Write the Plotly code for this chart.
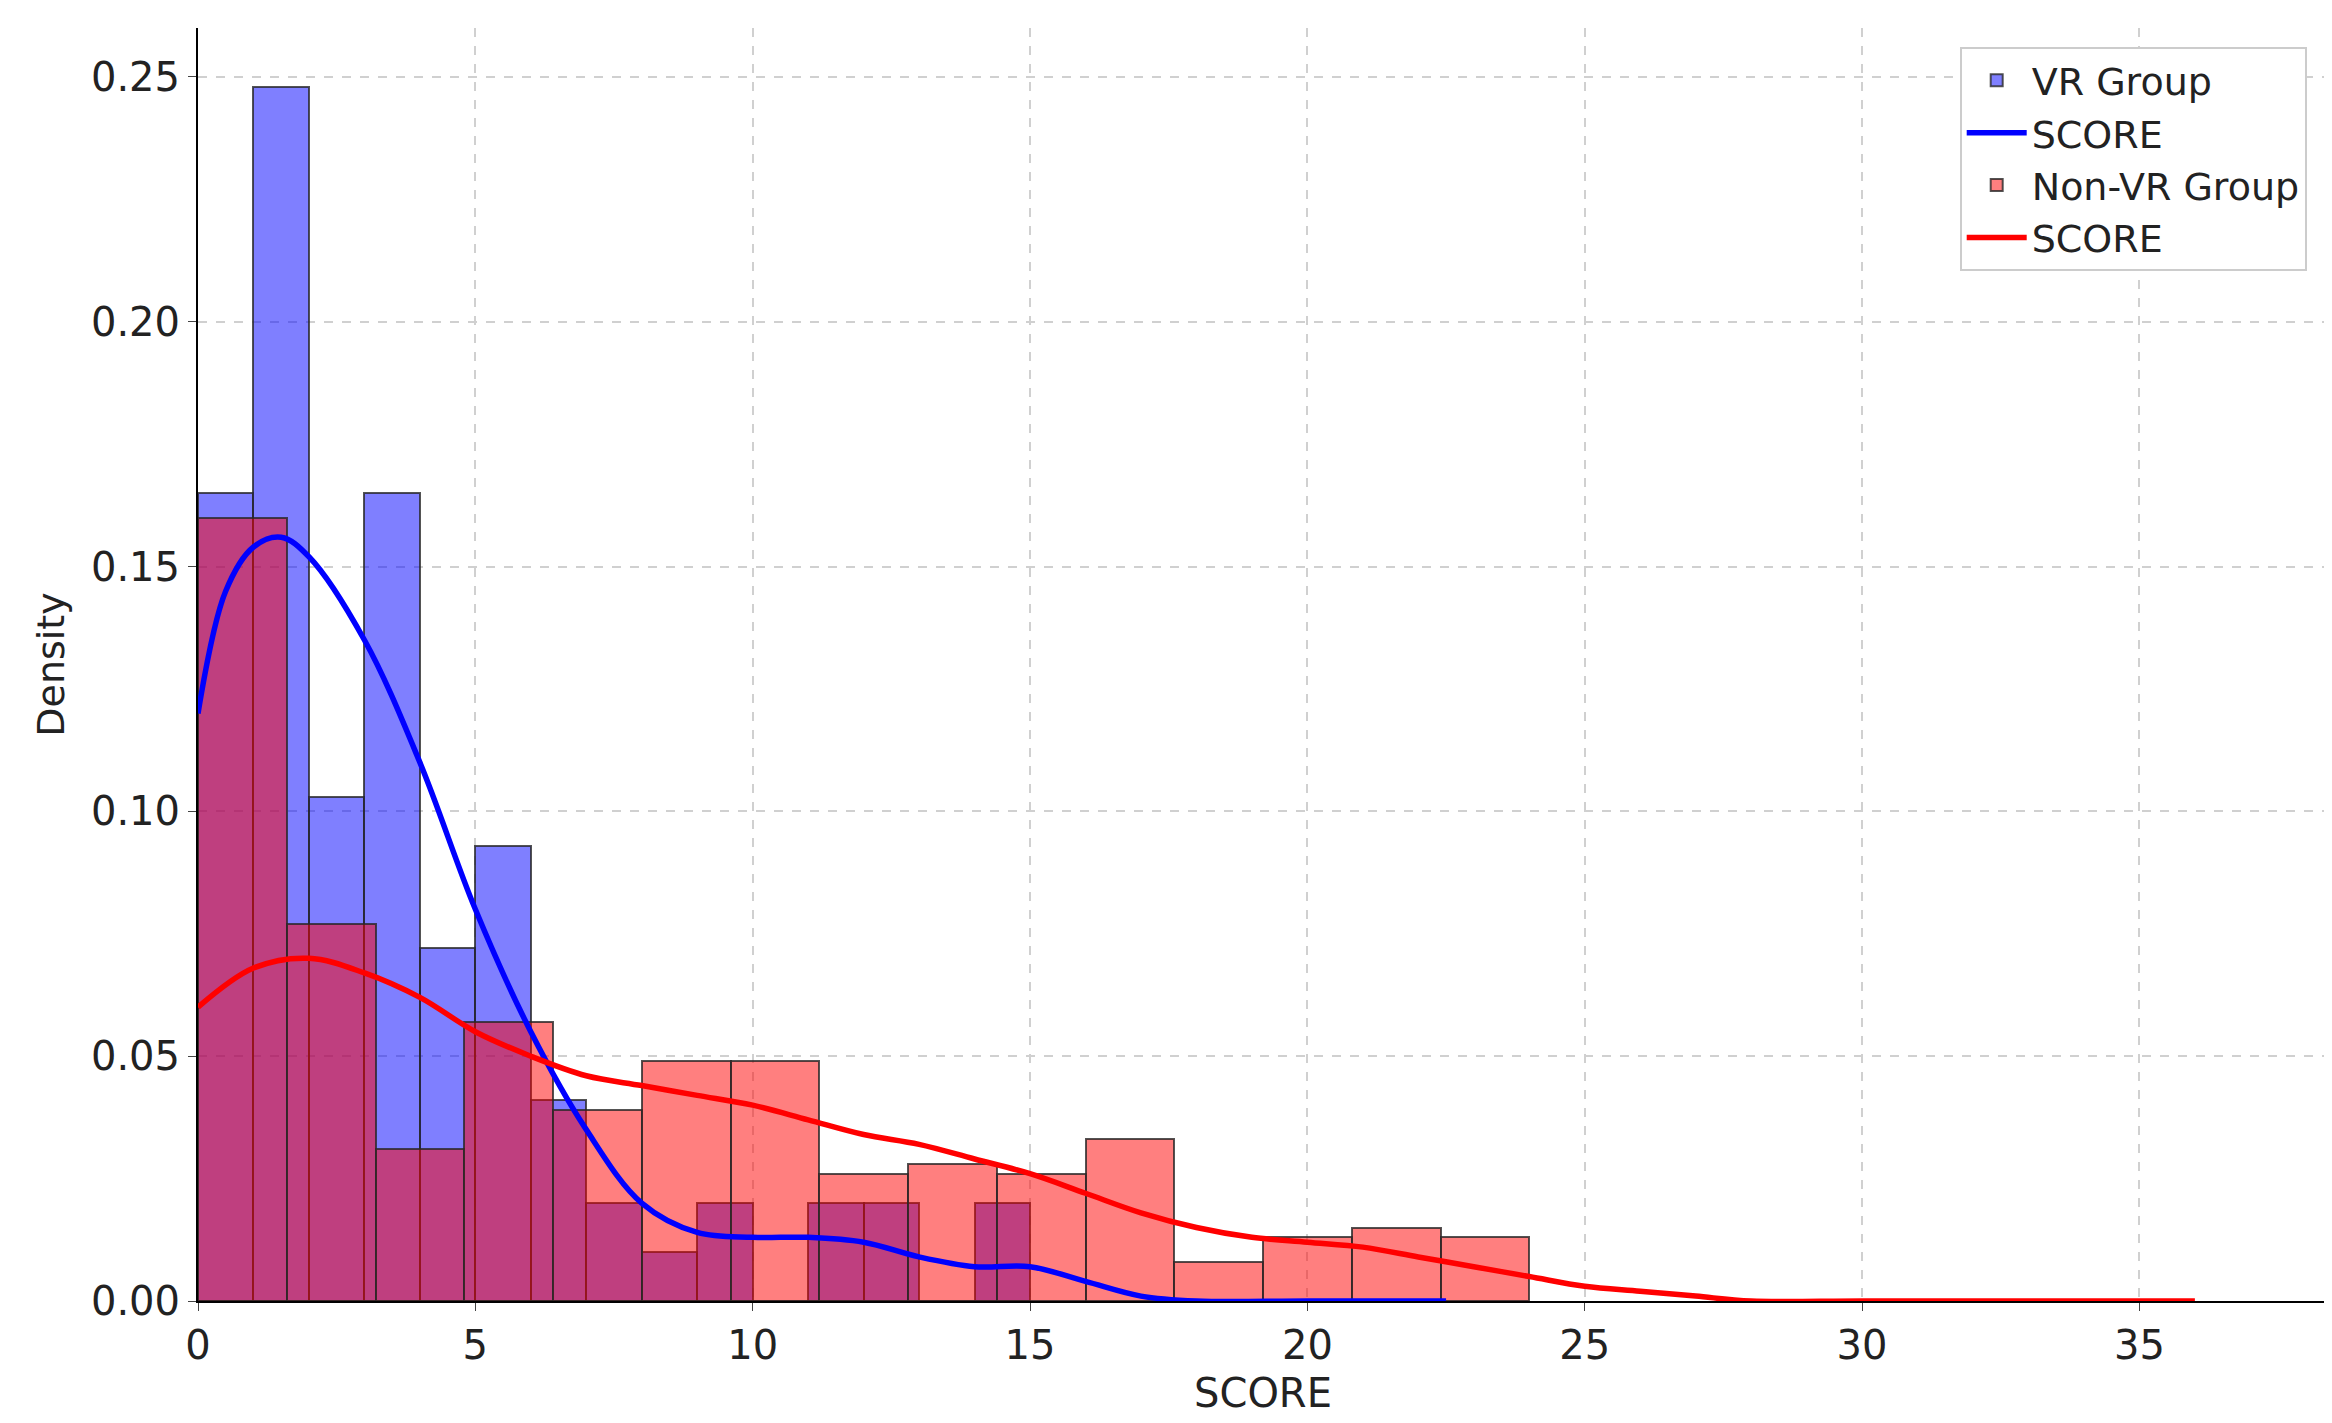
import plotly.graph_objects as go

vr_left = [0,1,2,3,4,5,6,7,8,9,10,11,12,13,14]
vr_width = 1.0
vr_density = [0.165,0.248,0.103,0.165,0.072,0.093,0.041,0.020,0.010,0.020,0.0,0.020,0.020,0.0,0.020]

nvr_left = [i*1.6 for i in range(15)]
nvr_width = 1.6
nvr_density = [0.160,0.077,0.031,0.057,0.039,0.049,0.049,0.026,0.028,0.026,0.033,0.008,0.013,0.015,0.013]

vr_kde_x = [0,0.5,1,1.5,2,3,4,5,6,7,8,9,10,11,12,13,14,15,16,17,18,20,22.5]
vr_kde_y = [0.12,0.145,0.154,0.156,0.152,0.135,0.11,0.08,0.055,0.035,0.02,0.014,0.013,0.013,0.012,0.009,0.007,0.007,0.004,0.001,0.0,0.0,0.0]
nvr_kde_x = [0,1,2,3,4,5,6,7,8,9,10,11,12,13,14,15,16,17,18,19,20,21,22,23,24,25,26,27,28,30,33,36]
nvr_kde_y = [0.06,0.068,0.07,0.067,0.062,0.055,0.05,0.046,0.044,0.042,0.04,0.037,0.034,0.032,0.029,0.026,0.022,0.018,0.015,0.013,0.012,0.011,0.009,0.007,0.005,0.003,0.002,0.001,0.0,0.0,0.0,0.0]

fig = go.Figure()
line = dict(color="rgba(40,40,40,0.8)", width=2)
fig.add_bar(x=[l + vr_width/2 for l in vr_left], y=vr_density, width=vr_width,
            marker=dict(color="rgba(0,0,255,0.5)", line=line), name="VR Group")
fig.add_scatter(x=vr_kde_x, y=vr_kde_y, mode="lines", line=dict(color="blue", width=5.5, shape="spline"), name="SCORE")
fig.add_bar(x=[l + nvr_width/2 for l in nvr_left], y=nvr_density, width=nvr_width,
            marker=dict(color="rgba(255,0,0,0.5)", line=line), name="Non-VR Group")
fig.add_scatter(x=nvr_kde_x, y=nvr_kde_y, mode="lines", line=dict(color="red", width=5.5, shape="spline"), name="SCORE")

grid = dict(showgrid=True, gridcolor="#d0d0d0", griddash="dash", gridwidth=1.5,
            showline=True, linecolor="black", linewidth=2, ticks="outside", ticklen=8,
            tickfont=dict(size=40), zeroline=False)
fig.update_layout(
    width=2332, height=1423, barmode="overlay", bargap=0,
    plot_bgcolor="white", paper_bgcolor="white",
    font=dict(family="DejaVu Sans", color="#222"),
    margin=dict(l=190, r=12, t=20, b=130),
    xaxis=dict(range=[0, 38.4], dtick=5, title=dict(text="SCORE", font=dict(size=40), standoff=12), **grid),
    yaxis=dict(range=[0, 0.26], dtick=0.05, tickformat=".2f", title=dict(text="Density", font=dict(size=38)), **grid),
    legend=dict(x=0.99, y=0.985, xanchor="right", yanchor="top", bgcolor="white",
                bordercolor="#ccc", borderwidth=2, font=dict(size=38), itemwidth=60),
)
fig.write_html("out.html")
